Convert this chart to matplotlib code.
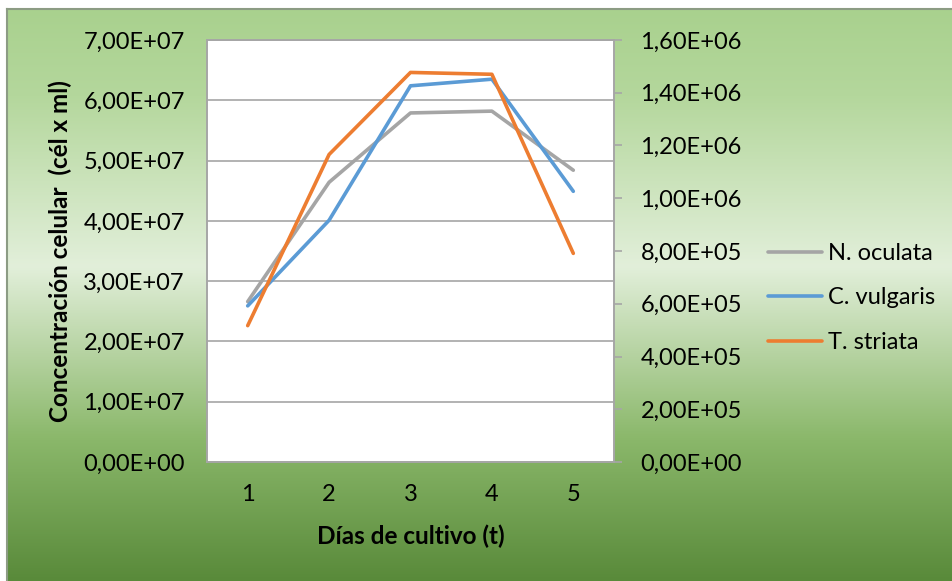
import numpy as np
import matplotlib
matplotlib.use("Agg")
import matplotlib.pyplot as plt
from matplotlib.colors import LinearSegmentedColormap
from matplotlib.ticker import FuncFormatter, MultipleLocator

plt.rcParams['font.family'] = ['Lato', 'DejaVu Sans']

# cultivation days and cell counts (cells per ml)
dias = [1, 2, 3, 4, 5]
n_oculata = [2.66e7, 4.64e7, 5.79e7, 5.82e7, 4.84e7]
c_vulgaris = [2.59e7, 4.01e7, 6.24e7, 6.35e7, 4.49e7]
# T. striata goes on the secondary axis
t_striata = [5.17e5, 1.166e6, 1.477e6, 1.470e6, 7.91e5]

gris = '#A5A5A5'
azul = '#5B9BD5'
naranja = '#ED7D31'


def sci_coma(v, pos):
    s = f"{v:.2E}"
    return s.replace('.', ',')


fig = plt.figure(figsize=(9.53, 5.81), dpi=100)

# green gradient background of the chart area
bg = fig.add_axes([7 / 953, 0, 1 - 7 / 953, 1 - 9 / 581], zorder=-5)
cmap = LinearSegmentedColormap.from_list('verde', [
    (0.0, '#598A3A'),
    (0.25, '#8BB86B'),
    (0.55, '#E2EFDA'),
    (0.85, '#B4D79C'),
    (1.0, '#A9D18E'),
])
grad = np.linspace(0, 1, 256).reshape(-1, 1)
bg.imshow(grad, aspect='auto', cmap=cmap, origin='lower', extent=[0, 1, 0, 1])
bg.set_xlim(0, 1)
bg.set_ylim(0, 1)
bg.set_xticks([])
bg.set_yticks([])
for lado in ['top', 'bottom', 'right']:
    bg.spines[lado].set_visible(False)
bg.spines['left'].set_color('#8C9C84')
bg.spines['left'].set_linewidth(1.5)
fig.add_artist(plt.Line2D([7 / 953, 1], [1 - 9 / 581, 1 - 9 / 581],
                          transform=fig.transFigure, color='#8C9C84', lw=1.5))

ax = fig.add_axes([207 / 953, 1 - 462 / 581, 407 / 953, 422 / 581])
ax.set_facecolor('white')
ax2 = ax.twinx()

ax.set_xlim(0.5, 5.5)
ax.set_ylim(0, 7e7)
ax2.set_ylim(0, 1.6e6)
ax.yaxis.set_major_locator(MultipleLocator(1e7))
ax2.yaxis.set_major_locator(MultipleLocator(2e5))
ax.yaxis.set_major_formatter(FuncFormatter(sci_coma))
ax2.yaxis.set_major_formatter(FuncFormatter(sci_coma))
ax.set_xticks(dias)

ax.grid(axis='y', color='#A6A6A6', lw=1.2)
ax.set_axisbelow(True)

for a in (ax, ax2):
    for lado in a.spines.values():
        lado.set_color('#A6A6A6')
        lado.set_linewidth(1.2)

fs = 17
ax.tick_params(axis='y', length=0, pad=16, labelsize=fs, labelcolor='black')
ax.tick_params(axis='x', length=0, pad=16, labelsize=fs, labelcolor='black')
ax2.tick_params(axis='y', length=6, width=1.2, color='#A6A6A6', pad=13,
                labelsize=fs, labelcolor='black')

l1, = ax.plot(dias, n_oculata, color=gris, lw=2.6, solid_joinstyle='round',
              solid_capstyle='round', label='N. oculata')
l2, = ax.plot(dias, c_vulgaris, color=azul, lw=2.6, solid_joinstyle='round',
              solid_capstyle='round', label='C. vulgaris')
l3, = ax2.plot(dias, t_striata, color=naranja, lw=2.6, solid_joinstyle='round',
               solid_capstyle='round', label='T. striata')

ax.set_ylabel('Concentración celular  (cél x ml)', fontsize=17.5,
              fontweight='bold', labelpad=8)
ax.set_xlabel('Días de cultivo (t)', fontsize=17.5, fontweight='bold',
              labelpad=14)

fig.legend(handles=[l1, l2, l3], loc='center left',
           bbox_to_anchor=(768 / 953, 1 - 298 / 581), frameon=False,
           fontsize=17, handlelength=2.3, handletextpad=0.25,
           labelspacing=1.0, borderpad=0, borderaxespad=0)

fig.savefig('out.png', dpi=100)
